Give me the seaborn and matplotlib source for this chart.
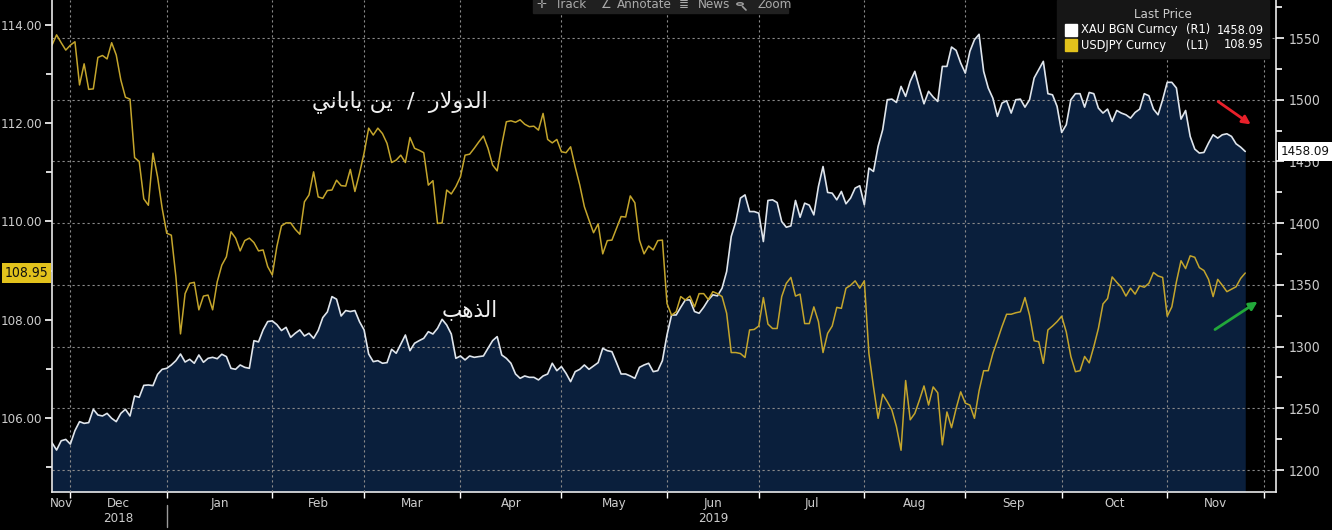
import numpy as np
import pandas as pd
import seaborn as sns
import matplotlib.pyplot as plt
import matplotlib.transforms as mtrans
from matplotlib.patches import Rectangle, Circle
from matplotlib.lines import Line2D

# daily values (weekdays) 27 Nov 2018 - 26 Nov 2019
usdjpy = [
    113.59, 113.80, 113.64, 113.49, 113.59, 113.66, 112.78, 113.21, 112.69, 112.70,
    113.34, 113.38, 113.31, 113.64, 113.39, 112.88, 112.53, 112.49, 111.30, 111.22,
    110.46, 110.33, 111.39, 110.91, 110.27, 109.76, 109.72, 108.87, 107.71, 108.53,
    108.74, 108.76, 108.20, 108.48, 108.50, 108.20, 108.77, 109.11, 109.28, 109.79,
    109.66, 109.40, 109.61, 109.66, 109.57, 109.40, 109.42, 109.08, 108.91, 109.49,
    109.91, 109.97, 109.97, 109.84, 109.74, 110.40, 110.54, 111.01, 110.50, 110.47,
    110.63, 110.64, 110.84, 110.73, 110.72, 111.06, 110.61, 110.98, 111.39, 111.90,
    111.76, 111.90, 111.79, 111.59, 111.20, 111.25, 111.35, 111.20, 111.71, 111.49,
    111.45, 111.40, 110.74, 110.83, 109.96, 109.97, 110.64, 110.56, 110.71, 110.91,
    111.35, 111.37, 111.49, 111.62, 111.74, 111.49, 111.15, 111.03, 111.56, 112.03,
    112.05, 112.02, 112.07, 111.98, 111.93, 111.94, 111.86, 112.20, 111.67, 111.60,
    111.67, 111.42, 111.40, 111.52, 111.11, 110.74, 110.30, 110.03, 109.77, 109.95,
    109.34, 109.61, 109.62, 109.86, 110.10, 110.09, 110.52, 110.38, 109.62, 109.34,
    109.50, 109.42, 109.61, 109.62, 108.33, 108.09, 108.16, 108.47, 108.40, 108.48,
    108.26, 108.53, 108.53, 108.41, 108.57, 108.53, 108.47, 108.13, 107.33, 107.33,
    107.31, 107.23, 107.79, 107.80, 107.87, 108.45, 107.91, 107.82, 107.82, 108.47,
    108.74, 108.86, 108.48, 108.52, 107.92, 107.92, 108.26, 107.96, 107.33, 107.72,
    107.87, 108.25, 108.23, 108.64, 108.70, 108.79, 108.64, 108.79, 107.31, 106.63,
    105.99, 106.48, 106.33, 106.16, 105.82, 105.34, 106.76, 105.96, 106.09, 106.36,
    106.65, 106.26, 106.63, 106.51, 105.45, 106.12, 105.80, 106.19, 106.53, 106.30,
    106.26, 105.99, 106.55, 106.96, 106.96, 107.31, 107.58, 107.86, 108.11, 108.11,
    108.14, 108.16, 108.45, 108.09, 107.57, 107.55, 107.11, 107.79, 107.87, 107.96,
    108.07, 107.75, 107.25, 106.94, 106.96, 107.25, 107.12, 107.45, 107.82, 108.32,
    108.43, 108.87, 108.76, 108.66, 108.48, 108.64, 108.52, 108.69, 108.66, 108.74,
    108.96, 108.89, 108.86, 108.07, 108.26, 108.77, 109.20, 109.04, 109.30, 109.27,
    109.06, 109.00, 108.82, 108.47, 108.82, 108.70, 108.57, 108.62, 108.67, 108.84,
    108.95,
]

gold = [
    1222.1, 1216.2, 1223.7, 1224.8, 1221.0, 1231.9, 1239.2, 1237.8, 1238.4, 1249.2,
    1244.6, 1243.8, 1245.9, 1241.9, 1239.2, 1245.9, 1249.2, 1243.8, 1260.0, 1258.9,
    1268.6, 1268.9, 1268.4, 1277.5, 1281.6, 1282.4, 1285.1, 1288.6, 1294.0, 1287.5,
    1289.7, 1286.5, 1293.2, 1287.3, 1290.5, 1291.3, 1290.2, 1293.8, 1291.9, 1282.4,
    1281.6, 1285.1, 1283.2, 1282.4, 1304.8, 1303.8, 1313.5, 1320.3, 1320.8, 1317.8,
    1313.0, 1315.6, 1307.5, 1310.8, 1313.5, 1308.6, 1310.8, 1306.7, 1313.0, 1323.5,
    1328.1, 1340.5, 1338.4, 1324.8, 1329.2, 1328.4, 1329.2, 1320.2, 1313.5, 1294.0,
    1287.8, 1288.6, 1286.5, 1287.0, 1297.8, 1294.6, 1302.1, 1309.4, 1296.7, 1302.7,
    1304.8, 1306.7, 1312.1, 1310.2, 1314.8, 1322.1, 1317.5, 1310.2, 1290.5, 1292.4,
    1289.2, 1292.4, 1291.3, 1291.9, 1292.4, 1298.6, 1304.8, 1308.1, 1293.2, 1290.5,
    1286.5, 1277.8, 1274.3, 1276.2, 1275.1, 1275.1, 1273.0, 1276.2, 1277.8, 1286.5,
    1280.5, 1283.8, 1278.4, 1271.6, 1279.7, 1281.6, 1285.1, 1281.6, 1284.3, 1287.0,
    1298.6, 1296.7, 1295.9, 1287.0, 1277.8, 1277.8, 1276.2, 1274.3, 1283.2, 1285.1,
    1286.5, 1279.7, 1280.5, 1288.6, 1309.4, 1325.6, 1325.6, 1331.9, 1337.8, 1337.8,
    1328.4, 1327.0, 1331.9, 1337.8, 1341.9, 1341.1, 1347.3, 1360.8, 1389.2, 1401.3,
    1420.3, 1422.9, 1409.4, 1409.4, 1408.1, 1385.1, 1418.4, 1418.9, 1416.7, 1401.3,
    1396.7, 1397.8, 1418.4, 1404.8, 1416.2, 1414.6, 1406.7, 1429.7, 1445.9, 1424.9,
    1424.3, 1418.9, 1425.7, 1415.7, 1420.3, 1428.4, 1430.3, 1414.9, 1444.6, 1441.9,
    1462.2, 1475.7, 1500.0, 1500.5, 1497.8, 1510.8, 1502.7, 1514.9, 1523.0, 1509.5,
    1496.7, 1506.8, 1502.2, 1498.6, 1527.0, 1527.0, 1542.7, 1540.0, 1529.7, 1521.6,
    1539.2, 1548.6, 1553.0, 1523.0, 1509.5, 1501.3, 1486.5, 1497.3, 1499.2, 1489.2,
    1500.0, 1500.5, 1494.0, 1500.0, 1517.6, 1524.3, 1531.1, 1504.9, 1504.0, 1494.6,
    1473.5, 1479.7, 1500.0, 1504.9, 1504.9, 1494.0, 1505.9, 1504.9, 1493.2, 1489.2,
    1492.4, 1482.4, 1491.3, 1489.2, 1487.8, 1485.1, 1489.7, 1492.4, 1504.9, 1503.2,
    1492.4, 1487.8, 1500.0, 1514.1, 1514.1, 1509.5, 1484.3, 1491.3, 1470.3, 1460.0,
    1456.8, 1457.3, 1464.9, 1471.6, 1468.9, 1471.6, 1472.4, 1470.3, 1464.3, 1461.6,
    1458.09,
]

month_names = ['Nov', 'Dec', 'Jan', 'Feb', 'Mar', 'Apr', 'May', 'Jun',
               'Jul', 'Aug', 'Sep', 'Oct', 'Nov']
left_ticks = [106, 108, 110, 112, 114]
right_ticks = [1200, 1250, 1300, 1350, 1400, 1450, 1500, 1550]

# arabic labels, shaped by hand (presentation forms, visual order)
label_usdjpy = ('\uFEF2\uFEE7\uFE8E\uFE91\uFE8E\uFEF3 \uFEE6\uFEF3  /  '
                '\uFEAD\uFEFB\uFEED\uFEAA\uFEDF\uFE8D')
label_gold = '\uFE90\uFEEB\uFEAC\uFEDF\uFE8D'

W, H = 1332, 530
BG = 'black'
NAVY = '#0a1f3c'
GOLD_LINE = '#dfe5ec'
YEN_LINE = '#c4a52c'
YELLOW = '#e2c21c'
TXT = '#cccccc'
GRID = '#8a8a8a'

sns.set_theme(style='dark', rc={'axes.facecolor': BG, 'figure.facecolor': BG})
plt.rcParams['font.family'] = ['DejaVu Sans']
plt.rcParams['font.stretch'] = 'condensed'

n = len(gold)
dates = pd.bdate_range('2018-11-27', periods=n)
cal = pd.bdate_range('2018-11-27', '2019-12-06')
df = pd.DataFrame({'day': np.arange(n), 'date': dates,
                   'gold': gold, 'usdjpy': usdjpy})

# month boundaries on a weekday axis
mon = cal.to_period('M')
starts = [i for i in range(1, len(cal)) if mon[i] != mon[i - 1]]
edges = [0] + starts + [len(cal)]
centers = [(a + b) / 2 for a, b in zip(edges[:-1], edges[1:])][:len(month_names)]

fig = plt.figure(figsize=(W / 100, H / 100), dpi=100)
ax_r = fig.add_axes([52 / W, 38 / H, (1276 - 52) / W, 492 / H])
ax_l = ax_r.twinx()
ax_r.yaxis.tick_right()
ax_l.yaxis.tick_left()

r_lo, r_hi = 1182.2, 1580.8
l_lo, l_hi = 104.49, 114.51
x_hi = 266.7

ax_r.fill_between(df['day'], df['gold'], r_lo, color=NAVY, lw=0, zorder=1)
sns.lineplot(data=df, x='day', y='gold', ax=ax_r, color=GOLD_LINE, lw=1.2, zorder=3)
sns.lineplot(data=df, x='day', y='usdjpy', ax=ax_l, color=YEN_LINE, lw=1.1)

for a in (ax_r, ax_l):
    a.set_xlabel('')
    a.set_ylabel('')
    for s in a.spines.values():
        s.set_visible(False)
ax_r.spines['right'].set_visible(True)
ax_r.spines['bottom'].set_visible(True)
ax_l.spines['left'].set_visible(True)
for s in (ax_r.spines['right'], ax_r.spines['bottom'], ax_l.spines['left']):
    s.set_color('#e8e8e8')
    s.set_linewidth(1.2)

# x axis: ticks at month starts, labels mid-month
ax_r.set_xticks(starts)
ax_r.set_xticklabels([])
ax_r.set_xticks(centers, minor=True)
ax_r.set_xticklabels(month_names, minor=True)
ax_r.tick_params(axis='x', which='major', bottom=True, length=4, color='white', width=1)
ax_r.tick_params(axis='x', which='minor', bottom=True, length=0, pad=3.5,
                 labelcolor=TXT, labelsize=9.5)

ax_r.set_yticks(right_ticks)
ax_r.set_yticklabels([str(v) for v in right_ticks])
ax_r.set_yticks(np.arange(1175, 1600, 50), minor=True)
ax_r.tick_params(axis='y', which='both', right=True, left=False, color='white',
                 width=1.2, labelcolor=TXT, labelsize=10)
ax_r.tick_params(axis='y', which='major', length=6, pad=3)
ax_r.tick_params(axis='y', which='minor', length=4)

ax_l.set_yticks(left_ticks)
ax_l.set_yticklabels(['%.2f' % v for v in left_ticks])
ax_l.set_yticks([105, 107, 109, 111, 113], minor=True)
ax_l.tick_params(axis='y', which='both', left=True, right=False, color='white',
                 width=1.2, labelcolor=TXT, labelsize=9.5)
ax_l.tick_params(axis='y', which='major', length=5, pad=2)
ax_l.tick_params(axis='y', which='minor', length=4)
ax_l.grid(False)

# limits after the ticks, so set_ticks does not widen them
ax_r.set_xlim(0, x_hi)
ax_r.set_ylim(r_lo, r_hi)
ax_l.set_ylim(l_lo, l_hi)

ax_r.set_axisbelow(False)
ax_r.grid(True, which='major', color=GRID, lw=0.8, ls=(0, (2, 2.5)), zorder=2)
ax_r.grid(False, which='minor')

# year labels and separator
bl = mtrans.blended_transform_factory(ax_r.transData, fig.transFigure)
fig.text(centers[1], 1 - 518 / H, '2018', transform=bl, ha='center', va='center',
         color=TXT, fontsize=9.5)
fig.text(centers[7], 1 - 518 / H, '2019', transform=bl, ha='center', va='center',
         color=TXT, fontsize=9.5)
fig.add_artist(Line2D([starts[1], starts[1]], [1 - 505 / H, 1 - 527 / H],
                      transform=bl, color='#9a9a9a', lw=1))

# arabic annotations
fig.text(400 / W, 1 - 102 / H, label_usdjpy, ha='center', va='center',
         color='#f0f0f0', fontsize=16, family=['DejaVu Sans'], stretch='normal')
fig.text(470 / W, 1 - 310 / H, label_gold, ha='center', va='center',
         color='#f0f0f0', fontsize=15.5, family=['DejaVu Sans'], stretch='normal')

# arrows
ax_r.annotate('', xy=(261.7, 1478.7), xytext=(253.6, 1499.8),
              arrowprops=dict(arrowstyle='-|>', color='#e8202a', lw=2,
                              mutation_scale=12))
ax_r.annotate('', xy=(263.2, 1337.7), xytext=(252.9, 1312.6),
              arrowprops=dict(arrowstyle='-|>', color='#22a83a', lw=2,
                              mutation_scale=12))

# last value badges
ax_l.text(-0.003, usdjpy[-1], '%.2f' % usdjpy[-1], transform=ax_l.get_yaxis_transform(),
          ha='right', va='center', fontsize=10, color='#101010',
          bbox=dict(boxstyle='square,pad=0.22', fc=YELLOW, ec='none'), clip_on=False)
ax_r.text(1.004, gold[-1], '%.2f' % gold[-1], transform=ax_r.get_yaxis_transform(),
          ha='left', va='center', fontsize=9.5, color='#101010', zorder=10,
          bbox=dict(boxstyle='square,pad=0.2', fc='white', ec='none'), clip_on=False)

# legend panel
fig.add_artist(Rectangle((1057 / W, 1 - 58 / H), 212 / W, 58 / H,
                         transform=fig.transFigure, color='#161616', zorder=5))
fig.text(1163 / W, 1 - 15 / H, 'Last Price', ha='center', va='center',
         color=TXT, fontsize=9.5, zorder=6)
rows = [('XAU BGN Curncy', '(R1)', '%.2f' % gold[-1], 'white', 30),
        ('USDJPY Curncy', '(L1)', '%.2f' % usdjpy[-1], YELLOW, 45)]
for name, tag, val, col, yy in rows:
    fig.add_artist(Rectangle((1065 / W, 1 - (yy + 6) / H), 12 / W, 12 / H,
                             transform=fig.transFigure, color=col, zorder=6))
    fig.text(1081 / W, 1 - yy / H, name, ha='left', va='center', color='white',
             fontsize=9.2, zorder=6)
    fig.text(1186 / W, 1 - yy / H, tag, ha='left', va='center', color='white',
             fontsize=9.2, zorder=6)
    fig.text(1264 / W, 1 - yy / H, val, ha='right', va='center', color='white',
             fontsize=9.2, zorder=6)

# toolbar strip at the top
fig.add_artist(Rectangle((533 / W, 1 - 13 / H), 255 / W, 15 / H,
                         transform=fig.transFigure, color='#202020', zorder=5))
for x, t in [(536, '\u271B'), (555, 'Track'), (601, '\u2220'), (617, 'Annotate'),
             (679, '\u2263'), (698, 'News'), (758, 'Zoom')]:
    fig.text(x / W, 1 - 5 / H, t, ha='left', va='center', color='#ababab',
             fontsize=9.5, zorder=6, family=['DejaVu Sans'])
# magnifier icon
fig.add_artist(Circle((740 / W, 1 - 4 / H), 3.2 / W, transform=fig.transFigure,
                      fill=False, ec='#a0a0a0', lw=1, zorder=6))
fig.add_artist(Line2D([742.5 / W, 746 / W], [1 - 6.5 / H, 1 - 10 / H],
                      transform=fig.transFigure, color='#a0a0a0', lw=1.2, zorder=6))

fig.savefig('out.png', dpi=100, facecolor=BG)
